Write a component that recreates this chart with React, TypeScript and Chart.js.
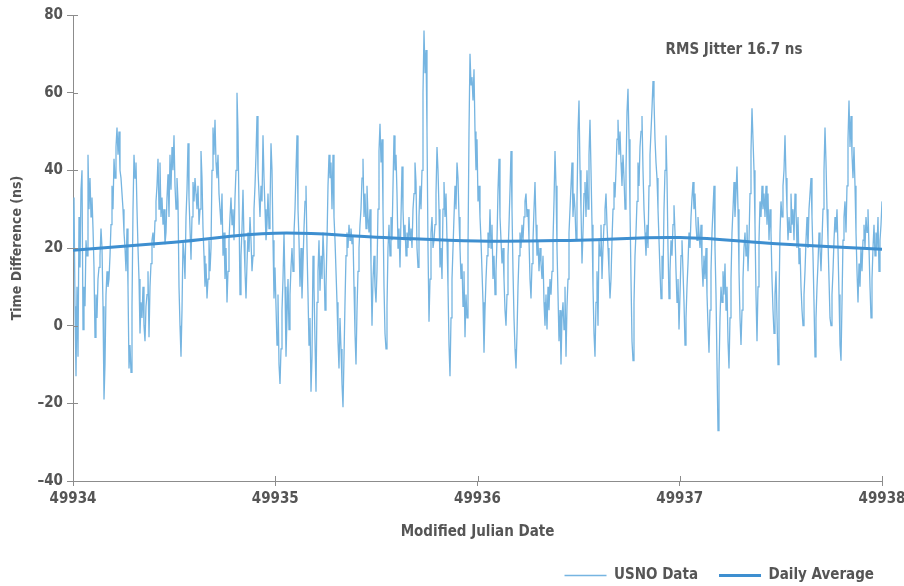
import React, { useEffect, useRef } from "react";
import { Chart, registerables } from "chart.js";

Chart.register(...registerables);

// ---------- data ----------
const xTicks = [49934, 49935, 49936, 49937, 49938];
const yTicks = [-40, -20, 0, 20, 40, 60, 80];
const seriesLabels = ["USNO Data", "Daily Average"];
const xTitle = "Modified Julian Date";
const yTitle = "Time Difference (ns)";
const noteText = "RMS Jitter 16.7 ns";

// USNO samples, evenly spaced in time between these MJDs
const usnoStartMjd = 49934;
const usnoEndMjd = 49938;
const usnoNs = [
  20, 33, 5, -13, 10, -8, 28, 15, 35, 40,
  -1, 10, 5, 22, 18, 44, 30, 38, 28, 33,
  25, 15, -3, 8, 2, 12, 15, 18, 25, 20,
  5, -19, -10, 8, 14, 10, 12, 18, 26, 36,
  30, 43, 38, 46, 51, 44, 50, 40, 38, 34,
  30, 24, 20, 14, 25, 10, -11, -5, -12, 5,
  30, 44, 38, 42, 30, 20, 12, -2, 6, 2,
  10, 0, -4, 5, 8, 14, -3, 10, 16, 22,
  24, 20, 27, 32, 36, 43, 30, 42, 28, 33,
  26, 30, 21, 24, 33, 39, 28, 44, 35, 46,
  40, 49, 36, 30, 38, 32, 10, 0, -8, 4,
  22, 18, 12, 28, 35, 47, 33, 25, 17, 28,
  37, 32, 38, 34, 30, 36, 26, 30, 45, 38,
  25, 18, 10, 16, 7, 12, 22, 14, 20, 40,
  51, 44, 53, 42, 38, 44, 34, 30, 26, 34,
  18, 24, 12, 20, 6, 14, 22, 28, 33, 26,
  30, 22, 33, 40, 60, 50, 30, 8, 18, 25,
  35, 22, 14, 7, 16, 24, 19, 28, 22, 14,
  18, 30, 36, 44, 54, 40, 34, 28, 36, 32,
  49, 38, 30, 22, 26, 34, 25, 30, 47, 40,
  22, 7, 15, 5, -5, 8, -10, -15, -6, 4,
  12, 24, 10, -8, 2, 12, -1, 8, 15, 20,
  14, 24, 30, 40, 49, 30, 22, 10, 20, 7,
  16, 25, 32, 36, 20, 8, -5, 2, -17, -8,
  18, 10, -4, -17, 6, 14, 22, 9, 18, 12,
  24, 17, 4, 10, 22, 36, 44, 38, 42, 30,
  44, 28, 22, 14, 6, -4, -11, 2, -6, -15,
  -21, -8, 6, 18, 24, 20, 26, 22, 25, 21,
  23, 10, -2, -10, 4, 14, 20, 26, 30, 38,
  43, 28, 34, 25, 36, 28, 24, 30, 16, 0,
  12, 18, 10, 6, 14, 30, 45, 52, 42, 48,
  30, 10, -2, -6, 5, 20, 26, 18, 28, 22,
  36, 49, 40, 44, 34, 20, 25, 15, 28, 41,
  30, 22, 26, 18, 24, 20, 28, 22, 25, 20,
  30, 34, 42, 37, 20, 15, 28, 36, 30, 40,
  60, 76, 65, 71, 50, 20, 1, 12, 24, 28,
  20, 22, 26, 34, 46, 40, 30, 15, 20, 12,
  30, 37, 28, 34, 22, 10, -5, -13, 2, 12,
  20, 28, 36, 30, 42, 38, 28, 20, 12, 16,
  5, 14, -3, 8, 2, 20, 50, 70, 62, 64,
  58, 66, 50, 40, 48, 32, 36, 28, 22, 14,
  6, -7, 4, 12, 18, 24, 20, 30, 20, 26,
  12, 18, 8, 14, 22, 35, 43, 28, 22, 16,
  20, 12, 4, 0, 8, 18, 26, 35, 45, 30,
  14, 2, -6, -11, -2, 10, 18, 24, 20, 26,
  22, 28, 32, 34, 28, 30, 22, 12, 7, 16,
  22, 30, 37, 26, 18, 22, 14, 20, 16, 12,
  18, 6, 0, 8, -1, 10, 4, 12, 8, 14,
  22, 32, 45, 36, 20, 8, -4, 4, -10, 2,
  6, -1, 10, -8, 5, 12, 24, 30, 36, 42,
  28, 34, 30, 22, 32, 50, 58, 40, 30, 16,
  24, 34, 37, 28, 40, 30, 44, 53, 40, 26,
  10, -2, -8, 6, 14, 0, 22, 18, 26, 12,
  20, 26, 30, 34, 26, 20, 14, 7, 12, 22,
  30, 37, 33, 40, 48, 53, 44, 50, 42, 36,
  44, 38, 30, 40, 55, 61, 48, 30, 12, -4,
  -9, 6, 18, 24, 32, 42, 36, 46, 50, 54,
  40, 30, 24, 18, 26, 20, 36, 44, 50, 56,
  63, 58, 48, 42, 38, 30, 22, 14, 7, 18,
  12, 30, 40, 49, 38, 20, 7, 14, 22, 18,
  26, 31, 24, 14, 6, 12, -1, 8, 18, 22,
  14, 6, -5, 2, 10, 16, 24, 20, 28, 33,
  37, 30, 34, 26, 22, 28, 24, 20, 26, 16,
  10, 18, 12, 20, 8, 0, -7, 4, 14, 24,
  30, 36, 20, 8, -10, -27, -12, 2, 10, 6,
  14, 8, 16, 4, 10, -4, -11, 2, 12, 24,
  30, 37, 28, 34, 41, 30, 14, 2, -5, 4,
  12, 20, 24, 18, 26, 14, 22, 34, 45, 56,
  48, 40, 26, 8, -4, 10, 22, 32, 28, 36,
  30, 34, 28, 36, 26, 34, 22, 30, 24, 12,
  4, -2, 8, 14, 2, -10, 6, 24, 32, 28,
  36, 40, 49, 38, 30, 22, 28, 24, 34, 26,
  30, 22, 34, 30, 20, 28, 16, 20, 10, 4,
  0, 8, 14, 22, 28, 20, 30, 34, 38, 28,
  18, 6, -8, 2, 10, 16, 24, 20, 14, 22,
  30, 40, 51, 42, 30, 22, 12, 2, 0, 8,
  14, 22, 28, 24, 30, 20, 8, -5, -9, 6,
  22, 28, 32, 24, 36, 48, 58, 46, 54, 44,
  38, 46, 36, 24, 14, 6, 16, 10, 20, 14,
  22, 26, 20, 28, 24, 30, 20, 10, 2, 12,
  20, 26, 18, 24, 20, 28, 14, 22, 26, 32,
];

const avgMjd = [49934, 49934.5, 49935, 49935.5, 49936, 49936.5, 49937, 49937.5, 49938];
const avgNs = [19.4, 21.5, 23.8, 22.8, 21.8, 22.0, 22.7, 21.0, 19.7];

// ---------- style ----------
const FONT = "'Liberation Sans Narrow', 'DejaVu Sans Condensed', 'Roboto', sans-serif";
const TEXT = "#555555";
const AXIS = "#8c8c8c";
const USNO_COLOR = "#76b5e1";
const AVG_COLOR = "#3e8fd0";
const FONT_SIZE = 15;

const extrasPlugin = {
  id: "extras",
  afterDraw(chart: any) {
    const { ctx, chartArea, scales } = chart;
    ctx.save();
    ctx.strokeStyle = AXIS;
    ctx.lineWidth = 1;
    yTicks.forEach((v) => {
      const y = Math.round(scales.y.getPixelForValue(v)) + 0.5;
      ctx.beginPath();
      ctx.moveTo(chartArea.left, y);
      ctx.lineTo(chartArea.left + 5, y);
      ctx.stroke();
    });
    xTicks.forEach((v) => {
      const x = Math.round(scales.x.getPixelForValue(v)) + 0.5;
      ctx.beginPath();
      ctx.moveTo(x, chartArea.bottom);
      ctx.lineTo(x, chartArea.bottom - 5);
      ctx.stroke();
    });
    ctx.fillStyle = TEXT;
    ctx.font = `bold ${FONT_SIZE}px ${FONT}`;
    ctx.textAlign = "left";
    ctx.textBaseline = "middle";
    ctx.fillText(noteText, scales.x.getPixelForValue(49936.93), scales.y.getPixelForValue(71));
    ctx.restore();
  },
};

export default function App() {
  const canvasRef = useRef<HTMLCanvasElement | null>(null);

  useEffect(() => {
    document.body.style.margin = "0";
    const canvas = canvasRef.current;
    if (!canvas) return;
    const n = usnoNs.length;
    const usnoPoints = usnoNs.map((v, i) => ({
      x: usnoStartMjd + (i * (usnoEndMjd - usnoStartMjd)) / (n - 1),
      y: v,
    }));
    const avgPoints = avgMjd.map((x, i) => ({ x, y: avgNs[i] }));

    const chart = new Chart(canvas, {
      type: "line",
      data: {
        datasets: [
          {
            label: seriesLabels[0],
            data: usnoPoints,
            borderColor: USNO_COLOR,
            backgroundColor: USNO_COLOR,
            borderWidth: 1.3,
            pointRadius: 0,
            tension: 0,
            order: 2,
          },
          {
            label: seriesLabels[1],
            data: avgPoints,
            borderColor: AVG_COLOR,
            backgroundColor: AVG_COLOR,
            borderWidth: 3,
            pointRadius: 0,
            tension: 0.4,
            order: 1,
          },
        ],
      },
      options: {
        responsive: false,
        animation: false,
        layout: { padding: { top: 15, left: 0, right: 9, bottom: -7 } },
        plugins: {
          tooltip: { enabled: false },
          legend: {
            position: "bottom",
            align: "end",
            labels: {
              usePointStyle: true,
              pointStyle: "line",
              pointStyleWidth: 42,
              color: TEXT,
              font: { family: FONT, size: FONT_SIZE, weight: "bold" },
              padding: 21,
              sort: (a: any, b: any) => a.datasetIndex - b.datasetIndex,
            },
          },
        },
        scales: {
          x: {
            type: "linear",
            min: 49934,
            max: 49938,
            afterFit: (s: any) => {
              s.height = 66;
              s.paddingLeft = 0;
              s.paddingRight = 22;
            },
            ticks: {
              stepSize: 1,
              autoSkip: false,
              maxRotation: 0,
              color: TEXT,
              padding: 4,
              font: { family: FONT, size: FONT_SIZE, weight: "bold" },
              callback: (v: any) => String(v),
            },
            grid: { display: true, drawOnChartArea: false, drawTicks: true, tickLength: 5, color: AXIS },
            border: { display: true, color: AXIS, width: 1 },
            title: {
              display: true,
              text: xTitle,
              color: TEXT,
              font: { family: FONT, size: FONT_SIZE, weight: "bold" },
              padding: { top: 4, bottom: 6 },
            },
          },
          y: {
            min: -40,
            max: 80,
            afterFit: (s: any) => {
              s.width = 73;
            },
            ticks: {
              stepSize: 20,
              color: TEXT,
              padding: 4,
              font: { family: FONT, size: FONT_SIZE, weight: "bold" },
              callback: (v: any) => (Number(v) < 0 ? "\u2013" + Math.abs(Number(v)) : String(v)),
            },
            grid: { display: true, drawOnChartArea: false, drawTicks: true, tickLength: 6, color: AXIS },
            border: { display: true, color: AXIS, width: 1 },
            title: {
              display: true,
              text: yTitle,
              color: TEXT,
              font: { family: FONT, size: 14, weight: "bold" },
              padding: { top: 9, bottom: 8 },
            },
          },
        },
      },
      plugins: [extrasPlugin],
    });
    return () => chart.destroy();
  }, []);

  return (
    <div style={{ width: 904, height: 586, background: "#fff" }}>
      <canvas ref={canvasRef} width={904} height={586} />
    </div>
  );
}
